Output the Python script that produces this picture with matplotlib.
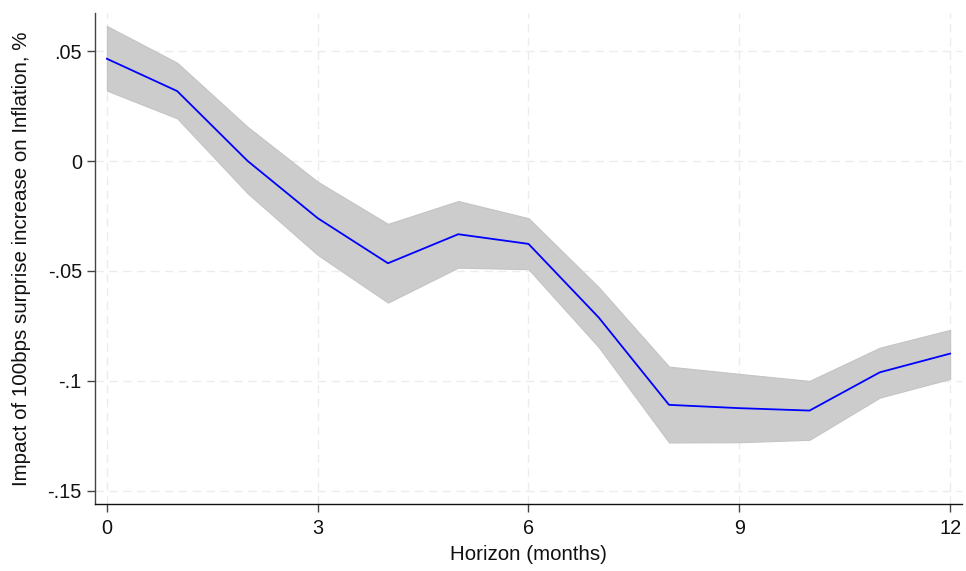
import matplotlib
matplotlib.use("Agg")
import matplotlib.pyplot as plt
from matplotlib.ticker import FixedLocator

plt.rcParams['font.family'] = ['Liberation Sans', 'DejaVu Sans']

horizon = [0, 1, 2, 3, 4, 5, 6, 7, 8, 9, 10, 11, 12]
irf = [0.0465, 0.0318, 0.0001, -0.0260, -0.0465, -0.0333, -0.0377,
       -0.0712, -0.1109, -0.1124, -0.1135, -0.0961, -0.0876]
upper = [0.0614, 0.0447, 0.0156, -0.0094, -0.0286, -0.0182, -0.0260,
         -0.0574, -0.0935, -0.0968, -0.1000, -0.0849, -0.0768]
lower = [0.0320, 0.0194, -0.0146, -0.0427, -0.0644, -0.0485, -0.0492,
         -0.0847, -0.1280, -0.1279, -0.1268, -0.1076, -0.0991]
xticks = [0, 3, 6, 9, 12]
yticks = [0.05, 0, -0.05, -0.1, -0.15]
ytick_labels = ['.05', '0', '-.05', '-.1', '-.15']

fig = plt.figure(figsize=(9.66, 5.71), dpi=100)
ax = fig.add_axes([0.0983, 0.1173, 0.8976, 0.8599])

ax.fill_between(horizon, lower, upper, facecolor='#cccccc', edgecolor='#c4c4c4',
                linewidth=0.8, zorder=2)
ax.plot(horizon, irf, color='#0000ff', linewidth=1.3, zorder=3)

ax.set_xlim(-0.17, 12.17)
ax.set_ylim(-0.156, 0.0673)
ax.xaxis.set_major_locator(FixedLocator(xticks))
ax.yaxis.set_major_locator(FixedLocator(yticks))
ax.set_yticklabels(ytick_labels)
ax.grid(True, color='#ececec', linestyle=(0, (6, 4)), linewidth=1.0, zorder=0)
ax.set_axisbelow(True)

for s in ['top', 'right']:
    ax.spines[s].set_visible(False)
ax.spines['left'].set_color('#444444')
ax.spines['bottom'].set_color('#111111')
for s in ['left', 'bottom']:
    ax.spines[s].set_linewidth(1.0)

ax.tick_params(axis='both', direction='out', length=6, width=1, color='#444444',
               labelsize=14.3, labelcolor='#111111', pad=3.5)
ax.tick_params(axis='x', pad=5)
ax.set_xlabel('Horizon (months)', fontsize=14.8, color='#111111', labelpad=5)
ax.set_ylabel('Impact of 100bps surprise increase on Inflation, %', fontsize=14.8,
              color='#111111', labelpad=12)

fig.savefig('out.png', dpi=100)
